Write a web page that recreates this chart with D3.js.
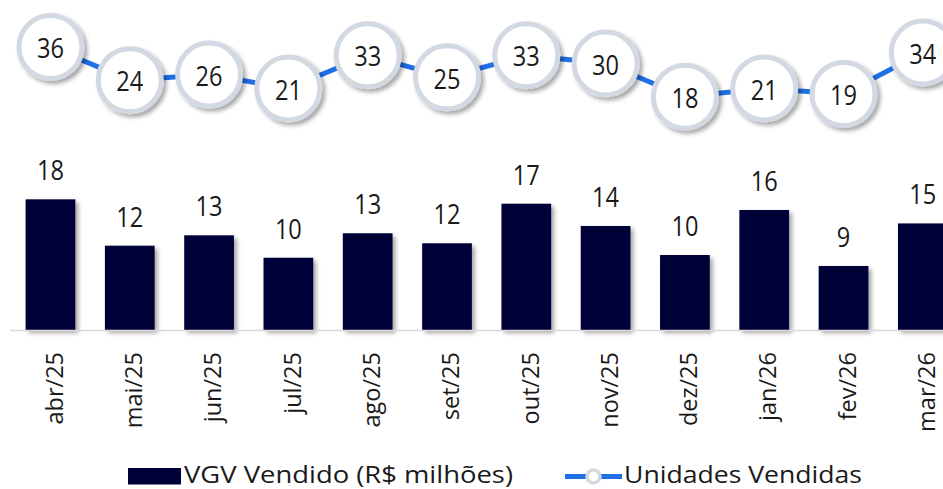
<!DOCTYPE html>
<html>
<head>
<meta charset="utf-8">
<script src="https://cdn.jsdelivr.net/npm/d3@7/dist/d3.min.js"></script>
<style>
  html, body { margin: 0; padding: 0; background: #fff; overflow: hidden; }
  svg { display: block; font-family: "Open Sans", "Noto Sans", sans-serif; }
</style>
</head>
<body>
<svg id="chart" width="943" height="489"></svg>
<script>
const categories = ["abr/25","mai/25","jun/25","jul/25","ago/25","set/25","out/25","nov/25","dez/25","jan/26","fev/26","mar/26"];
const vgvValues = [17.9, 11.55, 12.97, 9.9, 13.25, 11.88, 17.3, 14.25, 10.27, 16.44, 8.77, 14.6];
const unidadesValues = [36, 24, 26, 21, 33, 25, 33, 30, 18, 21, 19, 34];
const legendLabels = ["VGV Vendido (R$ milhões)", "Unidades Vendidas"];

const svg = d3.select("#chart");
const defs = svg.append("defs");
const f = defs.append("filter").attr("id","shadow").attr("x","-30%").attr("y","-30%").attr("width","170%").attr("height","170%");
f.append("feDropShadow").attr("dx",3).attr("dy",3).attr("stdDeviation",2).attr("flood-color","#000").attr("flood-opacity",0.35);

const baseY = 330;
const x = d3.scaleBand().domain(categories).range([10.85, 962.45]).paddingInner(0.373).paddingOuter(0.186);
const yBar = d3.scaleLinear().domain([0, 20]).range([baseY, baseY - 146]);
const yLine = d3.scaleLinear().domain([0, 36]).range([146.4, 47]);
const digitW = 13.5;

// bars
svg.append("g").selectAll("rect").data(vgvValues).join("rect")
  .attr("x", (d,i) => x(categories[i]))
  .attr("y", d => yBar(d))
  .attr("width", x.bandwidth())
  .attr("height", d => baseY - yBar(d))
  .attr("fill", "#000038")
  .attr("filter", "url(#shadow)");

// axis
const xAxis = d3.axisBottom(x).tickSize(0).tickPadding(0);
const ax = svg.append("g").attr("transform", `translate(0,${baseY})`).call(xAxis);
ax.select(".domain").attr("d", `M10,0.5H943`).attr("stroke", "#d9d9d9").attr("stroke-width", 1.5);
ax.selectAll(".tick text")
  .attr("transform", "translate(4,22) rotate(-90)")
  .attr("text-anchor", "end")
  .attr("dy", "0.35em")
  .attr("x", 0).attr("y", 0)
  .attr("font-size", 23.5)
  .attr("font-family", "'Open Sans', sans-serif")
  .attr("fill", "#1a1a1a");

// bar labels
svg.append("g").selectAll("text").data(vgvValues).join("text")
  .attr("x", (d,i) => x(categories[i]) + x.bandwidth()/2)
  .attr("y", d => yBar(d) - 19)
  .attr("text-anchor", "middle")
  .attr("font-size", 27)
  .attr("fill", "#1a1a1a")
  .attr("textLength", d => String(Math.round(d)).length * digitW)
  .attr("lengthAdjust", "spacingAndGlyphs")
  .text(d => Math.round(d));

// line
const cx = i => x(categories[i]) + x.bandwidth()/2;
const line = d3.line().x((d,i) => cx(i)).y(d => yLine(d));
svg.append("path").datum(unidadesValues)
  .attr("d", line).attr("fill","none").attr("stroke","#1f6fe6").attr("stroke-width",5);

const pts = svg.append("g").selectAll("g").data(unidadesValues).join("g")
  .attr("transform", (d,i) => `translate(${cx(i)},${yLine(d)})`);
pts.append("circle").attr("r", 31.5).attr("fill","#fff").attr("stroke","#d3d9e3").attr("stroke-width",5).attr("filter","url(#shadow)");
pts.append("text").attr("text-anchor","middle").attr("dy","0.4em").attr("font-size",28).attr("fill","#1a1a1a")
  .attr("textLength", d => String(d).length * digitW)
  .attr("lengthAdjust", "spacingAndGlyphs")
  .text(d => d);

// legend
const lg = svg.append("g");
lg.append("rect").attr("x",128).attr("y",468).attr("width",53).attr("height",16.5).attr("fill","#000038");
lg.append("text").attr("x",184).attr("y",482.5).attr("font-size",23).attr("fill","#1a1a1a")
  .attr("textLength", 329).attr("lengthAdjust","spacingAndGlyphs").text(legendLabels[0]);
lg.append("line").attr("x1",565).attr("x2",622).attr("y1",476.5).attr("y2",476.5).attr("stroke","#1f6fe6").attr("stroke-width",5);
lg.append("circle").attr("cx",593.5).attr("cy",476.5).attr("r",6.5).attr("fill","#fff").attr("stroke","#d3d9e3").attr("stroke-width",3.5);
lg.append("text").attr("x",624).attr("y",482.5).attr("font-size",23).attr("fill","#1a1a1a")
  .attr("textLength", 238).attr("lengthAdjust","spacingAndGlyphs").text(legendLabels[1]);
</script>
</body>
</html>
